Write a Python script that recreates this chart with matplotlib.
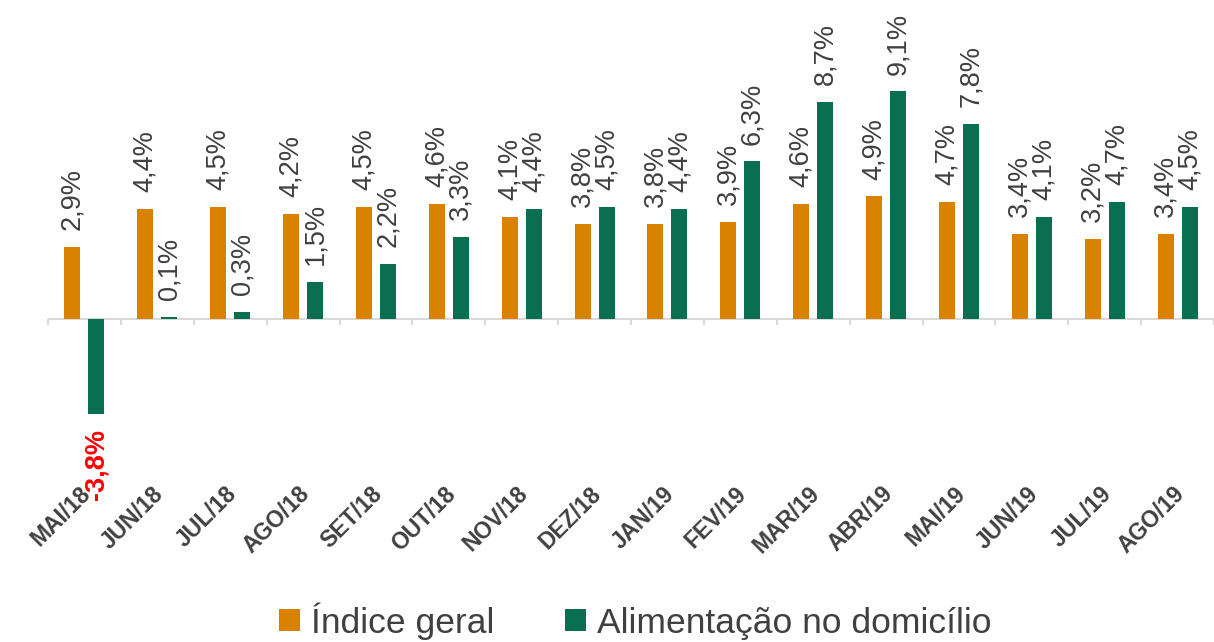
import numpy as np
import matplotlib.pyplot as plt

# =========================
# DATA
# =========================

meses = ["MAI/18", "JUN/18", "JUL/18", "AGO/18", "SET/18", "OUT/18", "NOV/18", "DEZ/18",
         "JAN/19", "FEV/19", "MAR/19", "ABR/19", "MAI/19", "JUN/19", "JUL/19", "AGO/19"]
indice_geral = [2.9, 4.4, 4.5, 4.2, 4.5, 4.6, 4.1, 3.8, 3.8, 3.9, 4.6, 4.9, 4.7, 3.4, 3.2, 3.4]
alimentacao = [-3.8, 0.1, 0.3, 1.5, 2.2, 3.3, 4.4, 4.5, 4.4, 6.3, 8.7, 9.1, 7.8, 4.1, 4.7, 4.5]

COR_INDICE = "#D98200"
COR_ALIM = "#0A6E50"
COR_TEXTO = "#404040"

plt.rcParams['font.family'] = ['Liberation Sans', 'DejaVu Sans']

# =========================
# PLOT
# =========================

fig = plt.figure(figsize=(12.14, 6.42), dpi=100)
ax = fig.add_axes([48 / 1214, 223 / 642, 1166 / 1214, 419 / 642])

x = np.arange(len(meses))
w = 0.22
off = 0.165

b1 = ax.bar(x - off, indice_geral, width=w, color=COR_INDICE, label="Índice geral")
b2 = ax.bar(x + off, alimentacao, width=w, color=COR_ALIM, label="Alimentação no domicílio")

ax.set_xlim(-0.5, len(meses) - 0.5)
ax.set_ylim(-4.0, 12.76)

for s in ax.spines.values():
    s.set_visible(False)
ax.set_xticks([])
ax.set_yticks([])

# zero line + category tick marks
ax.axhline(0, color="#d9d9d9", lw=1.5, zorder=0)
ax.vlines(np.arange(len(meses) + 1) - 0.5, -0.24, 0, color="#d9d9d9", lw=1.5, clip_on=False)

def fmt(v):
    return f"{v:.1f}".replace(".", ",") + "%"

for xi, v in zip(x - off, indice_geral):
    ax.annotate(fmt(v), (xi, v), xytext=(0, 12), textcoords="offset points",
                rotation=90, ha="center", va="bottom", fontsize=19.5, color=COR_TEXTO)

for xi, v in zip(x + off, alimentacao):
    if v < 0:
        ax.annotate(fmt(v), (xi, v), xytext=(0, -11), textcoords="offset points",
                    rotation=90, ha="center", va="top", fontsize=19.5, color="red",
                    fontweight="bold")
    else:
        ax.annotate(fmt(v), (xi, v), xytext=(0, 12), textcoords="offset points",
                    rotation=90, ha="center", va="bottom", fontsize=19.5, color=COR_TEXTO)

# month labels
for xi, m in zip(x, meses):
    ax.text(xi + 0.04, -6.85, m, rotation=45, rotation_mode="anchor", ha="right", va="center",
            fontsize=16.5, fontweight="bold", color=COR_TEXTO, clip_on=False)

fig.legend(handles=[b1, b2], loc="center", bbox_to_anchor=(0.523, 0.033), ncol=2,
           frameon=False, fontsize=25.5,
           handlelength=0.6, handleheight=0.6,
           handletextpad=0.3, columnspacing=2.0, labelcolor=COR_TEXTO)

fig.savefig("out.png", dpi=100)
